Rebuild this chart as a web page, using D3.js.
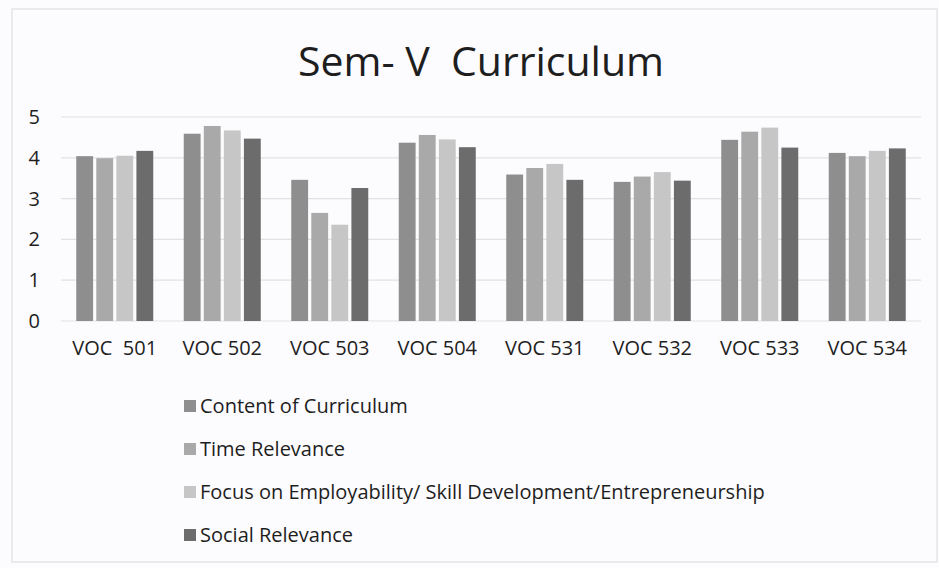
<html>
<script src="https://d3js.org/d3.v7.min.js"></script>
<style>
  body { margin: 0; background: #fcfbfd; }
  text { font-family: "Open Sans", sans-serif; fill: #1e1e1e; }
</style>
<body>
<svg class="chart" width="939" height="568"></svg>
<script>
// data
var courses = ["VOC  501", "VOC 502", "VOC 503", "VOC 504", "VOC 531", "VOC 532", "VOC 533", "VOC 534"];
var seriesNames = ["Content of Curriculum", "Time Relevance",
  "Focus on Employability/ Skill Development/Entrepreneurship", "Social Relevance"];
var content     = [4.04, 4.59, 3.46, 4.37, 3.59, 3.41, 4.44, 4.12];
var timeRel     = [3.99, 4.78, 2.65, 4.56, 3.75, 3.54, 4.64, 4.04];
var focus       = [4.05, 4.67, 2.36, 4.45, 3.85, 3.65, 4.74, 4.17];
var social      = [4.17, 4.47, 3.26, 4.26, 3.46, 3.44, 4.25, 4.23];
var yTicks = [0, 1, 2, 3, 4, 5];

var colors = ["#8e8e8e", "#a9a9a9", "#c6c6c6", "#6c6c6c"];
var series = [content, timeRel, focus, social];

var svg = d3.select(".chart");

// faint frame around the chart
svg.append("rect")
  .attr("x", 12).attr("y", 9).attr("width", 925).attr("height", 553)
  .attr("fill", "none").attr("stroke", "#e4e4e6").attr("stroke-width", 1.5);

var x = d3.scaleBand().domain(courses).range([61, 921]);
var y = d3.scaleLinear().domain([0, 5]).range([321, 117]);
var inner = d3.scaleBand().domain(d3.range(4)).range([0, 77]).paddingInner(0.16);
var groupOffset = (x.bandwidth() - 77) / 2;

// gridlines
svg.append("g")
  .selectAll("line").data(yTicks).enter()
  .append("line")
    .attr("x1", 61).attr("x2", 921)
    .attr("y1", function(d) { return y(d); })
    .attr("y2", function(d) { return y(d); })
    .attr("stroke", "#e2e2e4").attr("stroke-width", 1.2);

// bars
series.forEach(function(vals, s) {
  svg.append("g")
    .selectAll("rect").data(vals).enter()
    .append("rect")
      .attr("x", function(d, i) { return x(courses[i]) + groupOffset + inner(s); })
      .attr("y", function(d) { return y(d); })
      .attr("width", inner.bandwidth())
      .attr("height", function(d) { return y(0) - y(d); })
      .attr("fill", colors[s]);
});

// y axis labels
var yAxis = svg.append("g")
  .attr("transform", "translate(40,0)")
  .call(d3.axisLeft(y).tickValues(yTicks).tickFormat(d3.format("d")).tickSize(0).tickPadding(0));
yAxis.select(".domain").remove();
yAxis.selectAll("text")
  .attr("font-size", 20).attr("font-family", "Open Sans").attr("fill", "#1e1e1e");

// x axis labels
var xAxis = svg.append("g")
  .attr("transform", "translate(0,330)")
  .call(d3.axisBottom(x).tickSize(0).tickPadding(11));
xAxis.select(".domain").remove();
xAxis.selectAll("text")
  .attr("font-size", 20).attr("font-family", "Open Sans").attr("fill", "#1e1e1e")
  .style("white-space", "pre");

// title
svg.append("text")
  .attr("x", 481).attr("y", 76)
  .attr("text-anchor", "middle")
  .attr("font-size", 41)
  .style("white-space", "pre")
  .text("Sem- V  Curriculum");

// legend
var legend = svg.append("g").selectAll("g").data(seriesNames).enter()
  .append("g")
    .attr("transform", function(d, i) { return "translate(184," + (406 + i * 43) + ")"; });
legend.append("rect")
  .attr("x", 0).attr("y", -6).attr("width", 12).attr("height", 12)
  .attr("fill", function(d, i) { return colors[i]; });
legend.append("text")
  .attr("x", 16).attr("dy", "0.35em")
  .attr("font-size", 20)
  .text(function(d) { return d; });
</script>
</body>
</html>
